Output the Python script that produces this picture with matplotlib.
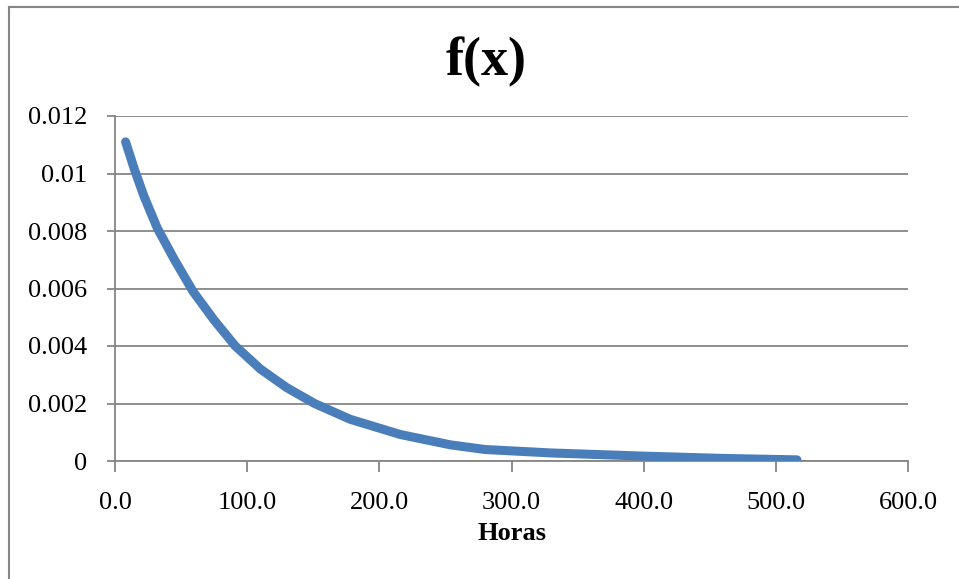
import matplotlib
matplotlib.use('Agg')
import matplotlib.pyplot as plt
from matplotlib.lines import Line2D

# horas vs f(x)
horas = [8, 15, 22, 32, 45, 59, 75, 91, 110, 130, 151, 178, 216, 254, 280, 330, 400, 460, 516]
fx = [0.0111, 0.0101, 0.0092, 0.0081, 0.0070, 0.0059, 0.0049, 0.0040, 0.0032, 0.00255,
      0.0020, 0.00145, 0.00092, 0.00056, 0.00040, 0.00028, 0.00017, 0.00009, 0.00004]

x_ticks = [0, 100, 200, 300, 400, 500, 600]
x_labels = ['0.0', '100.0', '200.0', '300.0', '400.0', '500.0', '600.0']
y_ticks = [0, 0.002, 0.004, 0.006, 0.008, 0.01, 0.012]
y_labels = ['0', '0.002', '0.004', '0.006', '0.008', '0.01', '0.012']

plt.rcParams['font.family'] = ['Liberation Serif', 'DejaVu Serif']
grid_col = '#868686'

W, H = 959, 579
fig = plt.figure(figsize=(W / 100, H / 100), dpi=100)
ax = fig.add_axes([115 / W, 1 - 461 / H, 793 / W, 345 / H])

ax.plot(horas, fx, color='#4A7EBB', linewidth=6.5, solid_capstyle='round',
        solid_joinstyle='round', zorder=3)

ax.set_xlim(0, 600)
ax.set_ylim(0, 0.012)
ax.set_xticks(x_ticks)
ax.set_xticklabels(x_labels)
ax.set_yticks(y_ticks)
ax.set_yticklabels(y_labels)
ax.tick_params(axis='both', labelsize=19, colors=grid_col, labelcolor='black', width=1.3)
ax.tick_params(axis='y', length=6, pad=14)
ax.tick_params(axis='x', length=8, pad=14)

ax.grid(axis='y', color=grid_col, linewidth=1.3)
for s in ['top', 'right']:
    ax.spines[s].set_visible(False)
for s in ['left', 'bottom']:
    ax.spines[s].set_color(grid_col)
    ax.spines[s].set_linewidth(1.3)

fig.text(486 / W, 1 - 62 / H, 'f(x)', fontsize=39, fontweight='bold', ha='center', va='center')
fig.text(512 / W, 1 - 533 / H, 'Horas', fontsize=19, fontweight='bold', ha='center', va='center')

# chart frame (only left and top edges are inside the picture)
fig.add_artist(Line2D([9 / W, 9 / W], [0, 1 - 6.5 / H], color=grid_col, linewidth=1.5))
fig.add_artist(Line2D([9 / W, 1], [1 - 6.5 / H, 1 - 6.5 / H], color=grid_col, linewidth=1.5))

fig.savefig('out.png', dpi=100)
